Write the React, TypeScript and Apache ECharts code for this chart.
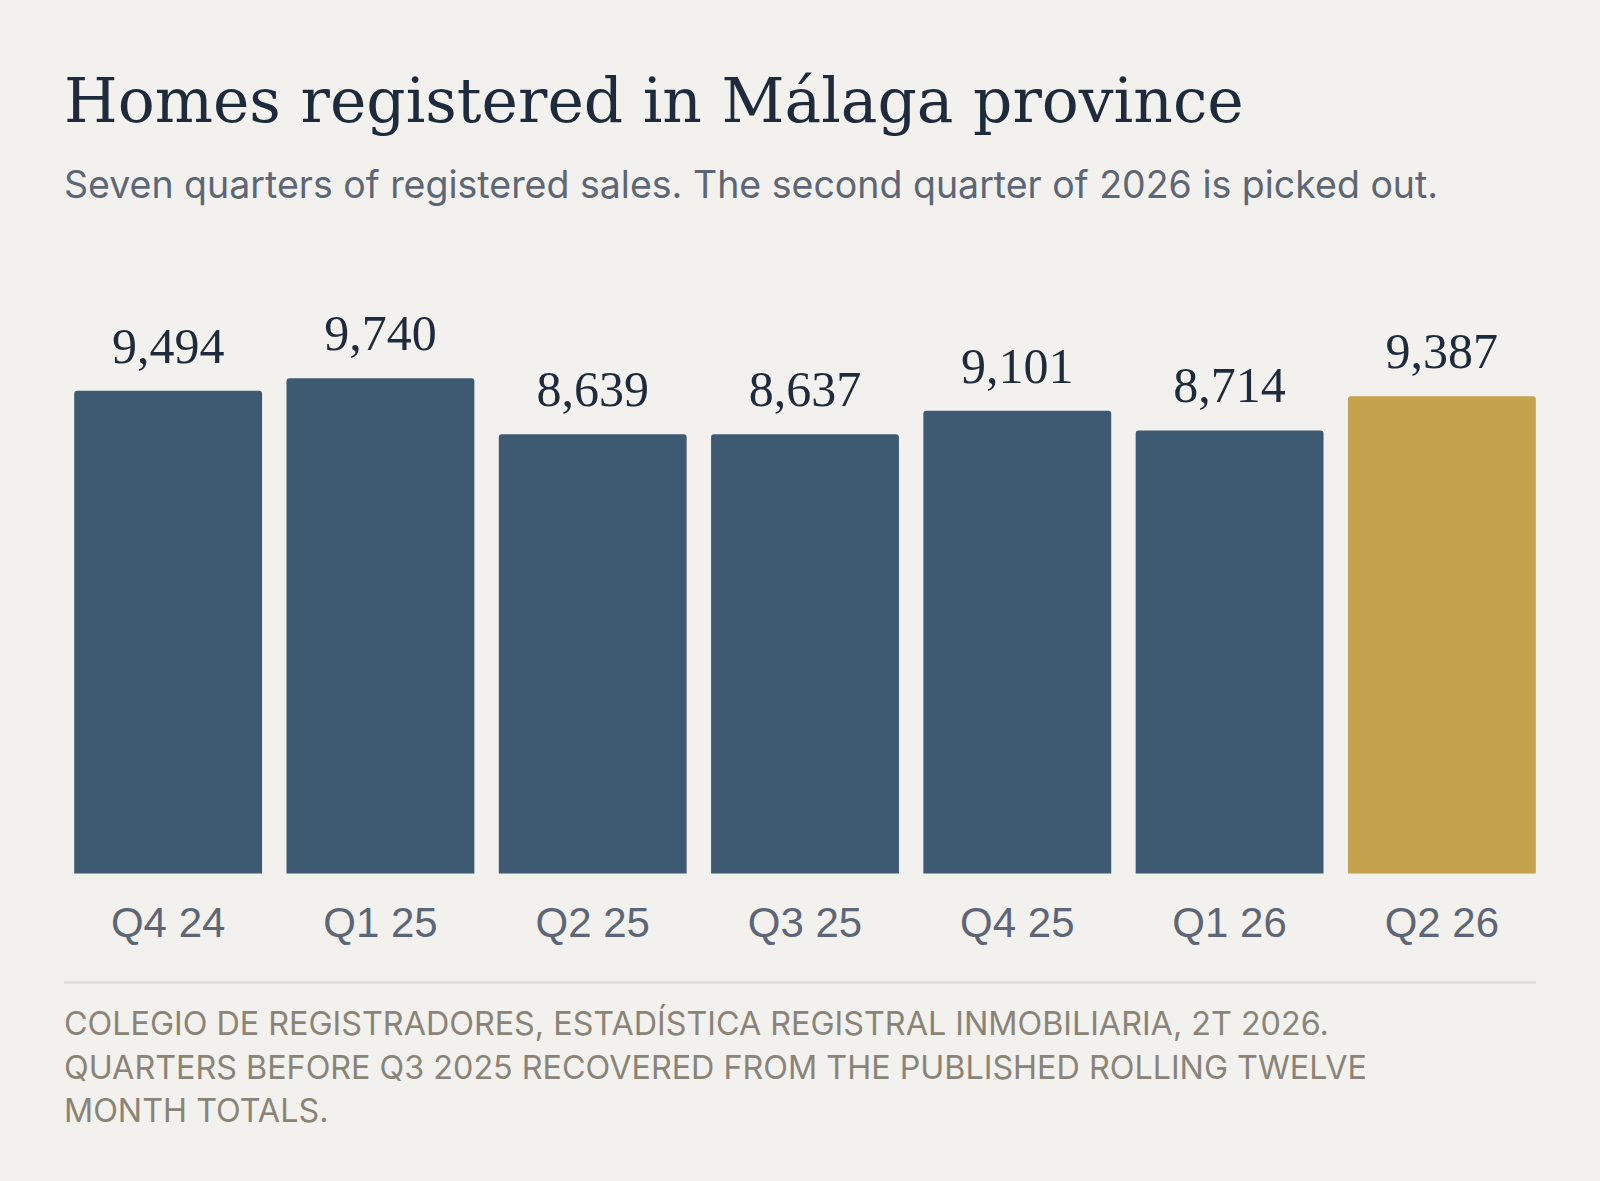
import React, { useEffect, useRef } from "react";
import * as echarts from "echarts";

const categories = ["Q4 24", "Q1 25", "Q2 25", "Q3 25", "Q4 25", "Q1 26", "Q2 26"];
const values = [9494, 9740, 8639, 8637, 9101, 8714, 9387];
const highlightIndex = 6;

const title = "Homes registered in Málaga province";
const subtitle = "Seven quarters of registered sales. The second quarter of 2026 is picked out.";
const footerLines = [
  "COLEGIO DE REGISTRADORES, ESTADÍSTICA REGISTRAL INMOBILIARIA, 2T 2026.",
  "QUARTERS BEFORE Q3 2025 RECOVERED FROM THE PUBLISHED ROLLING TWELVE",
  "MONTH TOTALS.",
];

const BG = "#f3f1ed";
const NAVY = "#3e5a73";
const GOLD = "#c4a24e";
const INK = "#1e2b3c";
const SUB = "#5d6676";
const FOOT = "#8a8478";

export default function App() {
  const ref = useRef<HTMLDivElement>(null);
  useEffect(() => {
    if (!ref.current) return;
    const chart = echarts.init(ref.current, null, { renderer: "svg" });
    const serif = "'Liberation Serif', 'DejaVu Serif', serif";
    const titleSerif = "'DejaVu Serif', 'Liberation Serif', serif";
    const sans = "'Liberation Sans', Arial, sans-serif";
    const wideSans = "Inter, 'Liberation Sans', Arial, sans-serif";
    chart.setOption({
      animation: false,
      backgroundColor: BG,
      grid: { left: 62, right: 52, top: 365, bottom: 307.5, containLabel: false },
      xAxis: {
        type: "category",
        data: categories,
        axisLine: { show: false },
        axisTick: { show: false },
        axisLabel: { color: SUB, fontSize: 42, fontFamily: sans, margin: 28 },
      },
      yAxis: {
        type: "value",
        min: 0,
        max: 10000,
        show: false,
        splitLine: { show: false },
      },
      series: [
        {
          type: "bar",
          data: values.map((v, i) => ({
            value: v,
            itemStyle: { color: i === highlightIndex ? GOLD : NAVY },
          })),
          barCategoryGap: "11.5%",
          itemStyle: { borderRadius: [3, 3, 0, 0] },
          label: {
            show: true,
            position: "top",
            distance: 20,
            color: INK,
            fontSize: 50,
            fontFamily: serif,
            formatter: (p: any) => Number(p.value).toLocaleString("en-US"),
          },
        },
      ],
      graphic: [
        {
          type: "text",
          left: 64,
          top: 70,
          style: { text: title, fill: INK, font: `61.5px ${titleSerif}` },
        },
        {
          type: "text",
          left: 64,
          top: 165,
          style: { text: subtitle, fill: SUB, font: `37.5px ${wideSans}` },
        },
        {
          type: "line",
          shape: { x1: 64, y1: 982.5, x2: 1536, y2: 982.5 },
          style: { stroke: "#dcd8d0", lineWidth: 2 },
        },
        ...footerLines.map((t, i) => ({
          type: "text",
          left: 64,
          top: 1007.5 + i * 43.5,
          style: { text: t, fill: FOOT, font: `32.3px ${wideSans}` },
        })),
      ],
    });
    return () => chart.dispose();
  }, []);
  return (
    <div style={{ position: "fixed", left: 0, top: 0, width: 1600, height: 1181, background: BG }}>
      <div ref={ref} style={{ width: 1600, height: 1181 }} />
    </div>
  );
}
